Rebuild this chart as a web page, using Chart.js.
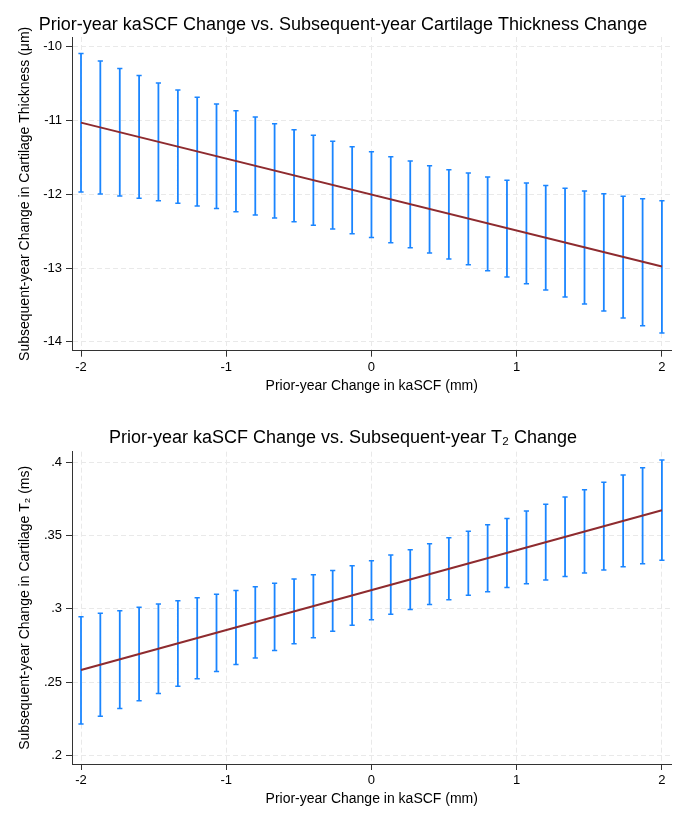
<!DOCTYPE html>
<html lang="en">
<head>
    <meta charset="UTF-8">
    <title>kaSCF change vs cartilage change</title>
    <script src="https://cdn.jsdelivr.net/npm/chart.js"></script>
    <style>
        body {
            margin: 0;
            background: #ffffff;
        }
        .panel {
            position: absolute;
            left: 0;
        }
    </style>
</head>
<body>
    <div class="panel" style="top:0"><canvas id="thicknessChart" width="686" height="412"></canvas></div>
    <div class="panel" style="top:412px"><canvas id="t2Chart" width="686" height="413"></canvas></div>

    <script>
        // Prior-year change in kaSCF (mm) at each margin point
        const kaSCF = [-2, -1.867, -1.733, -1.6, -1.467, -1.333, -1.2, -1.067, -0.933, -0.8, -0.667,
            -0.533, -0.4, -0.267, -0.133, 0, 0.133, 0.267, 0.4, 0.533, 0.667,
            0.8, 0.933, 1.067, 1.2, 1.333, 1.467, 1.6, 1.733, 1.867, 2];

        // Top panel: cartilage thickness (um), 95% CI bounds
        const thickUpper = [-10.095, -10.194, -10.298, -10.393, -10.492, -10.587, -10.686, -10.777, -10.868, -10.953, -11.044,
            -11.125, -11.201, -11.283, -11.356, -11.424, -11.492, -11.550, -11.614, -11.668, -11.713,
            -11.767, -11.810, -11.847, -11.883, -11.919, -11.955, -11.992, -12.027, -12.060, -12.087];
        const thickLower = [-11.969, -11.996, -12.023, -12.054, -12.087, -12.122, -12.159, -12.195, -12.236, -12.281, -12.321,
            -12.372, -12.420, -12.471, -12.534, -12.588, -12.656, -12.724, -12.796, -12.877, -12.955,
            -13.036, -13.121, -13.212, -13.298, -13.393, -13.488, -13.583, -13.677, -13.782, -13.881];
        const thickFitX = [-2, 2];
        const thickFitY = [-11.03, -12.98];

        // Bottom panel: cartilage T2 (ms), 95% CI bounds
        const t2Upper = [0.2945, 0.2969, 0.2986, 0.3010, 0.3032, 0.3055, 0.3075, 0.3100, 0.3125, 0.3150, 0.3175,
            0.3203, 0.3232, 0.3262, 0.3294, 0.3328, 0.3367, 0.3403, 0.3444, 0.3485, 0.3529,
            0.3574, 0.3617, 0.3667, 0.3713, 0.3763, 0.3813, 0.3863, 0.3913, 0.3963, 0.4016];
        const t2Lower = [0.2214, 0.2267, 0.2320, 0.2372, 0.2422, 0.2472, 0.2522, 0.2572, 0.2620, 0.2665, 0.2716,
            0.2761, 0.2802, 0.2846, 0.2887, 0.2925, 0.2962, 0.2996, 0.3030, 0.3061, 0.3092,
            0.3116, 0.3146, 0.3171, 0.3196, 0.3221, 0.3244, 0.3264, 0.3287, 0.3307, 0.3331];
        const t2FitX = [-2, 2];
        const t2FitY = [0.2583, 0.3672];

        const FONT = '"Liberation Sans", Arial, Helvetica, sans-serif';
        Chart.defaults.font.family = FONT;
        Chart.defaults.color = '#000000';

        const stataLabel = v => {
            const s = String(+v.toFixed(2));
            return s.replace(/^0\./, '.').replace(/^-0\./, '-.');
        };

        // one line per CI, broken by null points
        const ciPoints = (xs, lo, hi) => {
            const pts = [];
            xs.forEach((x, i) => {
                pts.push({ x: x, y: lo[i] });
                pts.push({ x: x, y: hi[i] });
                pts.push({ x: x, y: null });
            });
            return pts;
        };

        // Stata centres the graph title on the whole graph, not the plot region
        const pageTitle = {
            id: 'pageTitle',
            afterDraw(chart, args, opts) {
                const ctx = chart.ctx;
                ctx.save();
                ctx.fillStyle = '#000';
                ctx.font = '18px ' + FONT;
                ctx.textAlign = 'center';
                ctx.textBaseline = 'middle';
                ctx.fillText(opts.text, chart.width / 2, opts.y);
                ctx.restore();
            }
        };

        const makeChart = (id, spec) => {
            return new Chart(document.getElementById(id), {
                type: 'scatter',
                plugins: [pageTitle],
                data: {
                    datasets: [
                        {
                            data: spec.fitX.map((x, i) => ({ x: x, y: spec.fitY[i] })),
                            showLine: true,
                            borderColor: '#8e2b2f',
                            borderWidth: 2,
                            pointRadius: 0
                        },
                        {
                            data: ciPoints(kaSCF, spec.lower, spec.upper),
                            showLine: true,
                            spanGaps: false,
                            borderColor: '#1a85ff',
                            borderWidth: 1.8,
                            pointStyle: 'line',
                            pointRadius: 2.6,
                            pointBorderWidth: 1.5,
                            pointBorderColor: '#1a85ff'
                        }
                    ]
                },
                options: {
                    responsive: false,
                    animation: false,
                    layout: { padding: { left: 0, right: 14.5, top: spec.areaTop, bottom: 0 } },
                    plugins: {
                        legend: { display: false },
                        tooltip: { enabled: false },
                        title: { display: false },
                        pageTitle: { text: spec.title, y: spec.titleY }
                    },
                    scales: {
                        x: {
                            type: 'linear',
                            min: -2.062,
                            max: 2.066,
                            afterFit: s => { s.height = spec.xHeight; },
                            border: { display: true, color: '#333', width: 1, dash: [5, 3] },
                            grid: {
                                color: '#e9e9e9',
                                lineWidth: 1,
                                tickLength: 6,
                                tickColor: '#333',
                                tickBorderDash: []
                            },
                            ticks: {
                                stepSize: 1,
                                includeBounds: false,
                                maxRotation: 0,
                                padding: 3,
                                font: { size: 13 },
                                callback: v => stataLabel(v)
                            },
                            title: {
                                display: true,
                                text: 'Prior-year Change in kaSCF (mm)',
                                font: { size: 14 },
                                padding: { top: 0, bottom: spec.xTitlePad }
                            }
                        },
                        y: {
                            type: 'linear',
                            min: spec.yMin,
                            max: spec.yMax,
                            afterFit: s => { s.width = 72; },
                            border: { display: true, color: '#333', width: 1, dash: [5, 3] },
                            grid: {
                                color: '#e9e9e9',
                                lineWidth: 1,
                                tickLength: 6,
                                tickColor: '#333',
                                tickBorderDash: []
                            },
                            ticks: {
                                stepSize: spec.yStep,
                                includeBounds: false,
                                padding: 4,
                                font: { size: 13 },
                                callback: v => stataLabel(v)
                            },
                            title: {
                                display: true,
                                text: spec.yTitle,
                                font: { size: 14 },
                                padding: { top: 16.6, bottom: 0 }
                            }
                        }
                    }
                }
            });
        };

        const thicknessChart = makeChart('thicknessChart', {
            title: 'Prior-year kaSCF Change vs. Subsequent-year Cartilage Thickness Change',
            titleY: 24.6,
            areaTop: 37,
            yTitle: 'Subsequent-year Change in Cartilage Thickness (μm)',
            yMin: -14.12,
            yMax: -9.87,
            yStep: 1,
            xHeight: 61.3,
            xTitlePad: 17.9,
            lower: thickLower,
            upper: thickUpper,
            fitX: thickFitX,
            fitY: thickFitY
        });

        const t2Chart = makeChart('t2Chart', {
            title: 'Prior-year kaSCF Change vs. Subsequent-year T₂ Change',
            titleY: 26.2,
            areaTop: 39.7,
            yTitle: 'Subsequent-year Change in Cartilage T₂ (ms)',
            yMin: 0.1941,
            yMax: 0.4072,
            yStep: 0.05,
            xHeight: 61,
            xTitlePad: 17.6,
            lower: t2Lower,
            upper: t2Upper,
            fitX: t2FitX,
            fitY: t2FitY
        });
    </script>
</body>
</html>
